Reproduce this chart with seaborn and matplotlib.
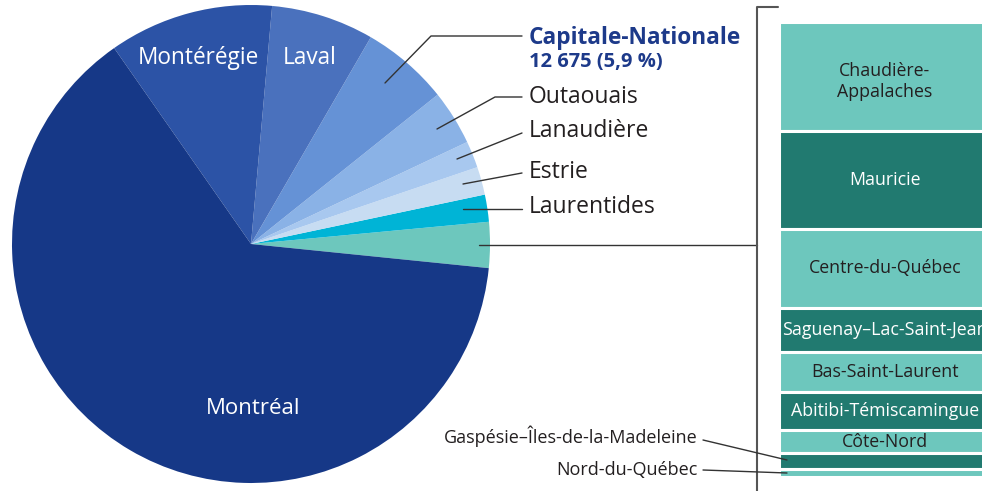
import seaborn as sns
import matplotlib.pyplot as plt

# Data
pie_regions = ["Autres régions", "Laurentides", "Estrie", "Lanaudière", "Outaouais",
               "Capitale-Nationale", "Laval", "Montérégie", "Montréal"]
bar_regions = ["Chaudière-\nAppalaches", "Mauricie", "Centre-du-Québec",
               "Saguenay–Lac-Saint-Jean", "Bas-Saint-Laurent", "Abitibi-Témiscamingue",
               "Côte-Nord", "Gaspésie–Îles-de-la-Madeleine", "Nord-du-Québec"]
bar_counts = [1590, 1430, 1155, 645, 585, 560, 330, 235, 115]
main_counts = [3940, 4060, 3880, 8000, 12675, 14920, 23870, 136770]
pie_counts = [sum(bar_counts)] + main_counts

pie_colors = ["#6dc7bd", "#00b4d6", "#c7dcf2", "#a8c8ef", "#8ab2e6",
              "#6592d6", "#4a71bd", "#2c53a6", "#163887"]
bar_colors = ["#6dc7bd", "#217a70"] * 5

sns.set_theme(style="white")
plt.rcParams["font.family"] = ["Open Sans", "DejaVu Sans"]

W, H = 982, 491
fig = plt.figure(figsize=(W / 100, H / 100), dpi=100)
ax = fig.add_axes([0, 0, 1, 1])


def Y(y):
    return H - y


# Pie
ax.pie(pie_counts, colors=pie_colors, startangle=-5.8, counterclock=True,
       center=(251, Y(244)), radius=239, wedgeprops=dict(linewidth=0))

# Stacked bar for the small regions
scale = 455 / sum(bar_counts)
top = Y(22)
for i, (name, val, col) in enumerate(zip(bar_regions, bar_counts, bar_colors)):
    h = val * scale
    ax.bar(885, h, width=212, bottom=top - h, color=col, edgecolor="white", linewidth=2.2)
    if val > 300:
        tcol = "white" if col == "#217a70" else "#231f20"
        ty = top - h / 2 - (5 if i == 0 else 0)
        ax.text(885, ty, name, ha="center", va="center", fontsize=12.8,
                color=tcol, linespacing=1.2, clip_on=True)
    top -= h

ax.set_xlim(0, W)
ax.set_ylim(0, H)
ax.set_aspect("equal")
ax.axis("off")

dark = "#231f20"
navy = "#1d3a8a"

# Labels inside the pie
ax.text(198, Y(58), "Montérégie", color="white", fontsize=16.3, ha="center", va="center")
ax.text(310, Y(58), "Laval", color="white", fontsize=16.3, ha="center", va="center")
ax.text(253, Y(409), "Montréal", color="white", fontsize=16, ha="center", va="center")

# Labels to the right of the pie with leader lines
ax.text(529, Y(38), "Capitale-Nationale", color=navy, fontsize=16.3, fontweight="bold",
        ha="left", va="center")
ax.text(529, Y(62), "12 675 (5,9 %)", color=navy, fontsize=14.5, fontweight="bold",
        ha="left", va="center")
ax.plot([385, 431, 522], [Y(83), Y(36), Y(36)], color="#333333", lw=1)

right_labels = ["Outaouais", "Lanaudière", "Estrie", "Laurentides"]
label_y = [97, 131, 172, 207]
lines = [([437, 495, 522], [129, 97, 97]),
         ([457, 522], [159, 133]),
         ([463, 522], [184, 173]),
         ([463, 522], [209, 209])]
for lab, ly, (xs, ys) in zip(right_labels, label_y, lines):
    ax.text(529, Y(ly), lab, color=dark, fontsize=16.5, ha="left", va="center")
    ax.plot(xs, [Y(v) for v in ys], color="#333333", lw=1)

# Bracket linking pie to bar
ax.plot([479, 757], [Y(245), Y(245)], color="#333333", lw=1)
ax.plot([778, 757, 757], [Y(7), Y(7), Y(491)], color="#555555", lw=1.5)

# Labels for the thin bar segments
ax.text(698, Y(436), bar_regions[7], color=dark, fontsize=13, ha="right", va="center")
ax.plot([703, 787], [Y(440), Y(460)], color="#333333", lw=1)
ax.text(698, Y(470), bar_regions[8], color=dark, fontsize=13, ha="right", va="center")
ax.plot([703, 787], [Y(470), Y(473)], color="#333333", lw=1)

fig.savefig("out.png", dpi=100)
